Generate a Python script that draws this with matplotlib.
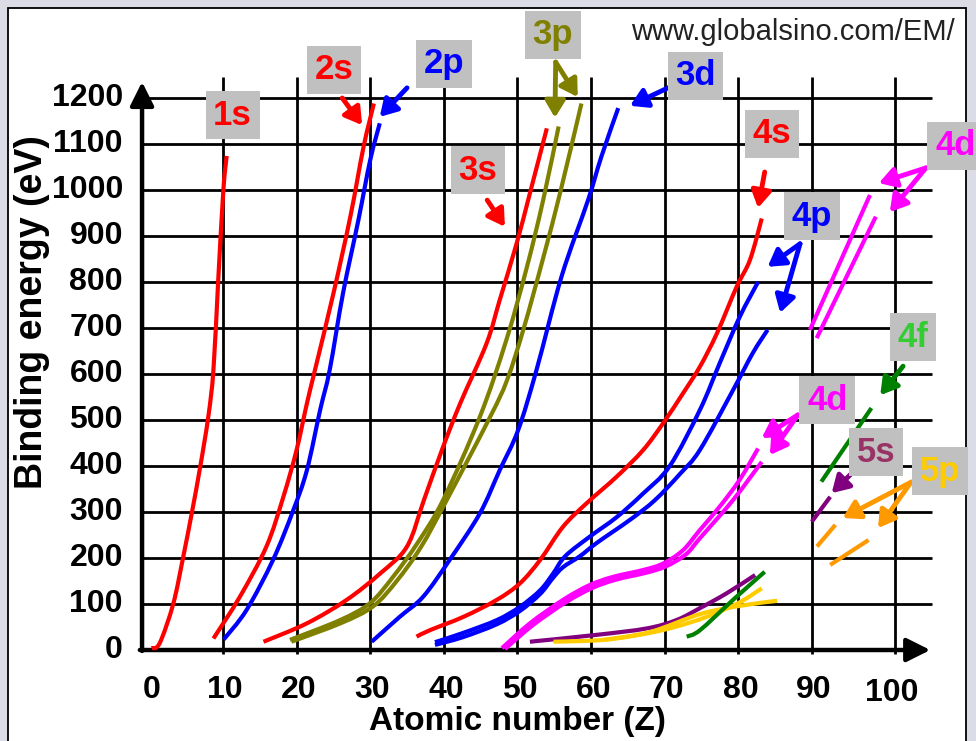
import numpy as np
import matplotlib.pyplot as plt
from matplotlib.patches import Rectangle, PathPatch
from matplotlib.path import Path

plt.rcParams["font.family"] = ["Liberation Sans", "DejaVu Sans"]

# binding energy curves (Z, eV)
s1_z = [0.3, 1.4, 3.25, 4.6, 5.75, 6.9, 8.0, 8.7, 9.35, 10.05, 10.5]
s1_e = [4, 15, 101, 203, 297, 398, 507, 609, 804, 1000, 1074]

s2_z = [8.7, 12.3, 15.9, 18.2, 20.0, 21.4, 22.5, 25.0, 27.3, 29.1, 30.5]
s2_e = [25, 116, 225, 333, 435, 536, 609, 775, 942, 1094, 1188]

p2_z = [10.1, 13.2, 16.8, 19.55, 21.4, 23.2, 24.5, 26.3, 28.4, 30.0, 31.3]
p2_e = [23, 87, 196, 304, 391, 522, 609, 775, 935, 1065, 1145]

s3_z = [15.5, 21.4, 26.8, 31.4, 35.0, 37.3, 39.75, 42.2, 45.8, 47.6, 49.9, 51.7, 54.0]
s3_e = [18, 58, 109, 167, 225, 326, 435, 535, 666, 761, 884, 993, 1134]

p3a_z = [19.1, 25.9, 29.98, 33.1, 36.4, 39.9, 44.9, 48.5, 51.3, 53.5, 55.6]
p3a_e = [22, 65, 102, 159, 232, 326, 507, 674, 833, 978, 1138]
p3b_z = [19.3, 26.1, 30.4, 33.6, 36.9, 40.4, 46.3, 48.6, 50.8, 53.5, 55.9, 58.7]
p3b_e = [18, 59, 95, 150, 224, 326, 507, 587, 696, 852, 1000, 1188]

d3_z = [30.2, 34.0, 37.2, 40.8, 44.9, 47.6, 50.1, 52.6, 56.0, 59.6, 61.4, 63.7]
d3_e = [18, 72, 116, 196, 297, 391, 478, 609, 812, 978, 1072, 1178]

s4_z = [36.3, 38.1, 42.65, 47.2, 50.35, 53.1, 56.2, 59.4, 63.5, 67.1, 69.8, 72.5, 74.8, 77.1, 79.8, 81.6, 83.2]
s4_e = [29, 43, 72, 109, 145, 196, 268, 319, 377, 435, 493, 558, 616, 688, 790, 848, 938]

p4a_z = [38.8, 42.6, 47.2, 50.35, 53.1, 54.8, 56.5, 59.8, 63.5, 67.0, 70.7, 74.8, 77.5, 80.2, 82.7]
p4a_e = [17, 37, 65, 94, 130, 165, 204, 246, 289, 339, 400, 522, 624, 724, 800]
p4b_z = [38.8, 42.6, 47.2, 50.35, 53.1, 54.8, 56.2, 58.5, 60.8, 65.3, 68.7, 72.1, 74.8, 79.3, 82.0, 84.0]
p4b_e = [11, 28, 56, 85, 122, 156, 180, 204, 233, 283, 326, 383, 435, 565, 646, 696]

d4a_z = [47.9, 51.7, 56.2, 59.8, 63.0, 67.1, 69.8, 72.5, 74.8, 77.5, 80.2, 82.7]
d4a_e = [4, 58, 109, 141, 159, 174, 188, 217, 261, 312, 370, 438]
d4b_z = [48.3, 52.1, 56.6, 60.2, 63.4, 67.5, 70.2, 72.9, 74.8, 79.3, 83.2]
d4b_e = [2, 54, 104, 135, 153, 168, 182, 208, 243, 326, 409]

s5_z = [51.7, 60.8, 67.6, 71.6, 74.8, 78.4, 82.3]
s5_e = [18, 33, 47, 65, 91, 123, 163]

p5a_z = [54.9, 61.7, 67.6, 71.6, 75.7, 80.0, 83.2]
p5a_e = [18, 22, 36, 51, 72, 102, 134]
p5b_z = [61.7, 68.0, 74.8, 80.2, 85.3]
p5b_e = [22, 39, 78, 96, 107]

f4_z = [73.0, 74.8, 79.3, 83.6]
f4_e = [29, 43, 109, 170]

# short pieces for the heavy elements
d4_hi_a_z, d4_hi_a_e = [89.75, 97.9], [696, 989]
d4_hi_b_z, d4_hi_b_e = [90.66, 98.7], [678, 942]
f4_hi_z, f4_hi_e = [91.3, 98.1], [366, 526]
s5_hi_z, s5_hi_e = [90.0, 92.5], [279, 333]
p5_hi_a_z, p5_hi_a_e = [90.7, 93.2], [225, 272]
p5_hi_b_z, p5_hi_b_e = [92.5, 97.7], [185, 239]

x_ticks = [0, 10, 20, 30, 40, 50, 60, 70, 80, 90, 100]
y_ticks = [0, 100, 200, 300, 400, 500, 600, 700, 800, 900, 1000, 1100, 1200]

RED, BLUE, OLIVE, MAG = "#ff0000", "#0000ff", "#808000", "#ff00ff"
PURP, GOLD, GREEN, ORANGE = "#800080", "#ffcc00", "#008000", "#ff9900"


def smooth_path(z, e):
    # bezier path passing through every read point (hand-drawn look of the original)
    p = np.column_stack([z, e]).astype(float)
    ext = np.vstack([p[0], p, p[-1]])
    verts, codes = [p[0]], [Path.MOVETO]
    for i in range(len(p) - 1):
        p0, p1, p2, p3 = ext[i], ext[i + 1], ext[i + 2], ext[i + 3]
        verts += [p1 + (p2 - p0) / 6, p2 - (p3 - p1) / 6, p2]
        codes += [Path.CURVE4] * 3
    return Path(verts, codes)


fig = plt.figure(figsize=(9.76, 7.41), dpi=100)
fig.patch.set_facecolor("#dcdce6")
ax = fig.add_axes([0, 0, 1, 1])
ax.set_xlim(-20.30, 112.31)
ax.set_ylim(-197.8, 1413.0)
ax.axis("off")

# white panel
ax.add_patch(Rectangle((8 / 976, -0.02), 958 / 976, 1.02 - 8 / 741, transform=ax.transAxes,
                       facecolor="white", edgecolor="black", lw=1.3, zorder=0, clip_on=False))

# grid
for v in y_ticks[1:]:
    ax.plot([-1, 106.3], [v, v], color="black", lw=2, zorder=1, solid_capstyle="butt")
grid_x = x_ticks[1:-1] + [101.3]
for z in grid_x:
    ax.plot([z, z], [-8, 1246], color="black", lw=2, zorder=1, solid_capstyle="butt")

# axes with arrow heads
arw = dict(arrowstyle="-|>,head_length=0.4,head_width=0.2", lw=3.2, color="black",
           mutation_scale=36, shrinkA=0, shrinkB=0)
ax.annotate("", xy=(-1, 1235), xytext=(-1, -2), arrowprops=arw, zorder=2)
ax.annotate("", xy=(106.1, 0), xytext=(-1.3, 0), arrowprops=arw, zorder=2)

# curves
curves = [
    (s1_z, s1_e, RED), (s2_z, s2_e, RED), (p2_z, p2_e, BLUE), (s3_z, s3_e, RED),
    (p3a_z, p3a_e, OLIVE), (p3b_z, p3b_e, OLIVE), (d3_z, d3_e, BLUE), (s4_z, s4_e, RED),
    (p4a_z, p4a_e, BLUE), (p4b_z, p4b_e, BLUE), (d4a_z, d4a_e, MAG), (d4b_z, d4b_e, MAG),
    (s5_z, s5_e, PURP), (p5a_z, p5a_e, GOLD), (p5b_z, p5b_e, GOLD), (f4_z, f4_e, GREEN),
    (d4_hi_a_z, d4_hi_a_e, MAG), (d4_hi_b_z, d4_hi_b_e, MAG), (f4_hi_z, f4_hi_e, GREEN),
    (s5_hi_z, s5_hi_e, PURP), (p5_hi_a_z, p5_hi_a_e, ORANGE), (p5_hi_b_z, p5_hi_b_e, ORANGE),
]
for z, e, c in curves:
    ax.add_patch(PathPatch(smooth_path(z, e), facecolor="none", edgecolor=c, lw=3.0,
                           capstyle="butt", joinstyle="round", zorder=3))

# tick labels
tick_font = dict(fontsize=23, fontweight="bold", color="black")
for z in x_ticks[:-1]:
    ax.text(z + 0.3, -88, str(z), ha="center", va="center", **tick_font)
ax.text(100.9, -94, "100", ha="center", va="center", **tick_font)
for v in y_ticks:
    ax.text(-3.6, v, str(v), ha="right", va="center", **tick_font)

ax.text(50.0, -155, "Atomic number (Z)", ha="center", va="center", fontsize=24, fontweight="bold")
ax.text(-16.0, 735, "Binding energy (eV)", ha="center", va="center", rotation=90,
        fontsize=27, fontweight="bold")
ax.text(87.5, 1343, "www.globalsino.com/EM/", ha="center", va="center", fontsize=21, color="#222222")

# orbital labels
box = dict(boxstyle="square,pad=0.22", fc="#c0c0c0", ec="none")
labels = [
    ("1s", 11.3, 1163, RED), ("2s", 25.1, 1261, RED), ("2p", 40.0, 1274, BLUE),
    ("3p", 54.8, 1337, OLIVE), ("3d", 74.2, 1248, BLUE), ("3s", 44.6, 1043, RED),
    ("4s", 84.6, 1122, RED), ("4p", 90.0, 943, BLUE), ("4d", 109.5, 1096, MAG),
    ("4f", 103.7, 680, "#33cc33"), ("4d", 92.1, 543, MAG), ("5s", 98.7, 430, "#993366"),
    ("5p", 107.4, 389, GOLD),
]
for t, z, e, c in labels:
    ax.text(z, e, t, color=c, fontsize=25, fontweight="bold", ha="center", va="center",
            bbox=box, zorder=5)

# pointer arrows (tail -> head)
pointers = [
    ((26.2, 1200), (28.9, 1141), RED), ((35.0, 1222), (31.3, 1159), BLUE),
    ((45.9, 978), (48.3, 920), RED), ((55.2, 1278), (55.1, 1157), OLIVE),
    ((55.2, 1278), (58.2, 1202), OLIVE), ((71.0, 1226), (65.3, 1183), BLUE),
    ((83.6, 1039), (82.7, 961), RED), ((88.4, 883), (84.0, 833), BLUE),
    ((88.4, 883), (85.7, 733), BLUE), ((105.5, 1048), (99.1, 1015), MAG),
    ((105.5, 1048), (100.6, 952), MAG), ((102.4, 617), (99.3, 554), GREEN),
    ((88.1, 511), (83.2, 461), MAG), ((88.1, 511), (84.3, 424), MAG),
    ((96.3, 398), (92.7, 341), PURP), ((103.5, 365), (94.2, 287), ORANGE),
    ((103.5, 365), (99.0, 265), ORANGE),
]
for tail, head, c in pointers:
    ax.annotate("", xy=head, xytext=tail, zorder=4,
                arrowprops=dict(arrowstyle="-|>,head_length=0.5,head_width=0.3", lw=3.5,
                                color=c, mutation_scale=20, shrinkA=0, shrinkB=0))

fig.savefig("out.png", dpi=100)
